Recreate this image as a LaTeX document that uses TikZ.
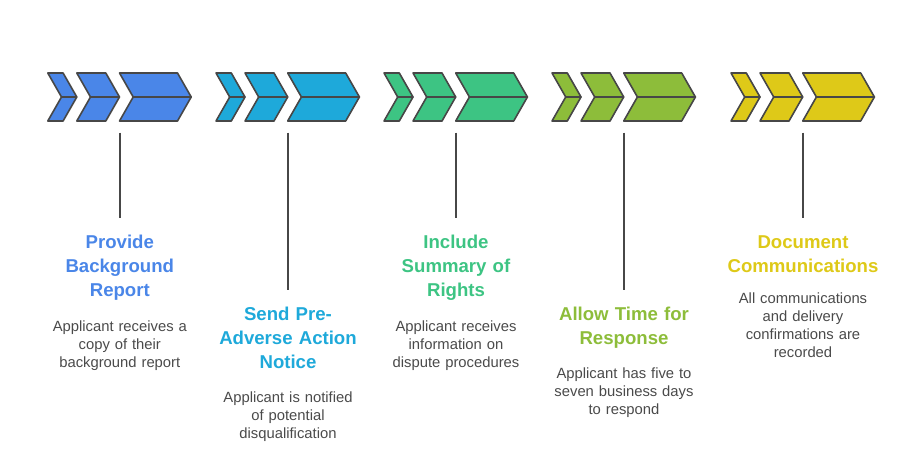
\documentclass[tikz,border=0pt]{standalone}
\usepackage{fontspec}
\setmainfont{Liberation Sans}
\definecolor{edge}{HTML}{474747}
\definecolor{txt}{HTML}{4A4A4A}
\definecolor{cA}{HTML}{4A86E8}
\definecolor{cB}{HTML}{1EA9DA}
\definecolor{cC}{HTML}{3DC483}
\definecolor{cD}{HTML}{8DBD3A}
\definecolor{cE}{HTML}{DEC918}
\newcommand\chevpiece[3]{%
  \draw[piece,fill=#3] (#1,73) -- ++(#2,0) -- ++(13.7,24) -- ++(-#2,0) -- cycle;
  \draw[piece,fill=#3] (#1+13.7,97) -- ++(#2,0) -- ++(-13.7,24) -- ++(-#2,0) -- cycle;}
\newcommand\chevgroup[2]{%
  \chevpiece{#1}{15.3}{#2}\chevpiece{#1+29}{29}{#2}\chevpiece{#1+71.7}{58}{#2}}
\begin{document}
\begin{tikzpicture}[x=1pt,y=-1pt,
  piece/.style={draw=edge, line width=1.6pt, line join=round},
  stem/.style={draw=edge, line width=1.6pt},
  ttl/.style={anchor=north, inner sep=0pt, text width=190pt, align=center,
    font=\fontsize{18.6}{24}\selectfont\bfseries},
  dsc/.style={anchor=north, inner sep=0pt, text width=190pt, align=center,
    font=\fontsize{14.8}{18}\selectfont, text=txt}]
\useasboundingbox (0,0) rectangle (912,469);

% chevron groups
\chevgroup{47.8}{cA}
\chevgroup{216}{cB}
\chevgroup{384}{cC}
\chevgroup{552}{cD}
\chevgroup{731}{cE}

% stems
\coordinate (a1) at (119.8,132.7); \coordinate (b1) at (119.8,218);
\coordinate (a2) at (288,132.7);   \coordinate (b2) at (288,290);
\coordinate (a3) at (456,132.7);   \coordinate (b3) at (456,218);
\coordinate (a4) at (624,132.7);   \coordinate (b4) at (624,290);
\coordinate (a5) at (803,132.7);   \coordinate (b5) at (803,218);
\draw[stem] (a1) -- (b1);
\draw[stem] (a2) -- (b2);
\draw[stem] (a3) -- (b3);
\draw[stem] (a4) -- (b4);
\draw[stem] (a5) -- (b5);

% titles
\node[ttl, text=cA] (t1) at (119.8,231.2) {\strut Provide\\Background\\Report};
\node[ttl, text=cB] (t2) at (288,303.2) {\strut Send Pre-\\Adverse Action\\Notice};
\node[ttl, text=cC] (t3) at (456,231.2) {\strut Include\\Summary of\\Rights};
\node[ttl, text=cD] (t4) at (624,303.2) {\strut Allow Time for\\Response};
\node[ttl, text=cE] (t5) at (803,231.2) {\strut Document\\Communications};

% descriptions
\node[dsc] (d1) at (119.8,318.4) {\strut Applicant receives a\\copy of their\\background report};
\node[dsc] (d2) at (288,389.4) {\strut Applicant is notified\\of potential\\disqualification};
\node[dsc] (d3) at (456,318.9) {\strut Applicant receives\\information on\\dispute procedures};
\node[dsc] (d4) at (624,365.9) {\strut Applicant has five to\\seven business days\\to respond};
\node[dsc] (d5) at (803,290.4) {\strut All communications\\and delivery\\confirmations are\\recorded};
\end{tikzpicture}
\end{document}
